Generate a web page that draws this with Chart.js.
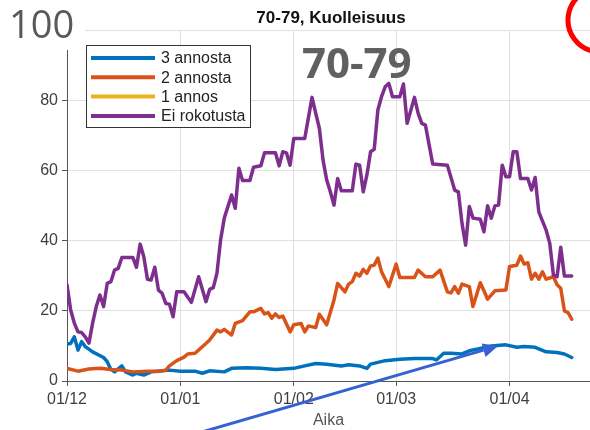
<!DOCTYPE html>
<html>
<head>
<meta charset="utf-8">
<script src="https://cdn.jsdelivr.net/npm/chart.js@4.4.1/dist/chart.umd.min.js"></script>
<style>
  body { margin: 0; background: #fff; }
  canvas { display: block; }
</style>
</head>
<body>
<canvas id="myChart" width="590" height="430"></canvas>
<script>
// x axis = days counted from 1 Dec
const tickDays = [0, 31, 62, 90, 121];
const tickLabels = ['01/12', '01/01', '01/02', '01/03', '01/04'];
const yTicks = [0, 20, 40, 60, 80, 100];

const seriesNames = ['3 annosta', '2 annosta', '1 annos', 'Ei rokotusta'];
const seriesColors = ['#0072BD', '#D95319', '#EDB120', '#7E2F8E'];

const dose3Days = [0, 1, 2, 3, 4, 5, 7, 10, 11, 12, 13, 15, 16, 18, 19, 21, 23, 25, 28, 31, 35, 37, 39, 43, 45, 49, 53, 57, 62, 65, 68, 71, 75, 77, 80, 82, 83, 87, 91, 95, 100, 101, 103, 105, 108, 110, 113, 116, 120, 123, 125, 128, 131, 134, 136, 138];
const dose3 = [10.5, 10.7, 12.6, 8.8, 11.2, 9.8, 8.3, 6.7, 5.5, 3.3, 2.6, 4.3, 2.6, 1.7, 2.2, 1.7, 2.6, 2.8, 3.1, 2.8, 2.8, 2.2, 2.9, 2.6, 3.6, 3.8, 3.6, 3.3, 3.6, 4.3, 5.0, 4.8, 4.3, 4.6, 4.3, 3.6, 4.8, 5.8, 6.2, 6.4, 6.4, 6.0, 7.9, 7.9, 7.7, 8.6, 9.3, 10.0, 10.3, 9.6, 9.8, 9.6, 8.3, 8.1, 7.7, 6.7];

const dose2Days = [0, 3, 6, 9, 12, 15, 18, 22, 25, 27, 28, 30, 32, 33, 35, 38, 39, 41, 42, 43, 45, 46, 48, 50, 51, 53, 54, 55, 56, 57, 58, 59, 61, 62, 64, 65, 66, 68, 69, 71, 73, 74, 76, 77, 78, 79, 80, 81, 82, 83, 84, 85, 86, 88, 90, 91, 95, 96, 98, 100, 102, 104, 105, 106, 107, 108, 110, 111, 113, 114, 115, 117, 120, 121, 123, 124, 125, 126, 127, 128, 129, 130, 131, 133, 134, 135, 136, 137, 138];
const dose2 = [3.6, 2.8, 3.4, 3.6, 3.3, 3.1, 2.6, 2.8, 2.8, 3.1, 4.3, 5.8, 6.8, 7.7, 7.9, 10.7, 11.7, 14.5, 14.0, 14.7, 13.1, 16.4, 17.2, 19.7, 19.7, 20.7, 19.1, 19.5, 17.9, 19.1, 18.1, 18.5, 14.0, 16.0, 16.4, 14.0, 15.7, 15.2, 19.0, 16.0, 23.1, 27.8, 25.4, 27.6, 28.3, 30.7, 29.9, 31.8, 30.7, 32.8, 33.0, 35.0, 31.1, 26.9, 33.3, 29.5, 29.5, 31.6, 29.7, 29.7, 31.6, 25.4, 25.1, 26.9, 25.0, 27.6, 26.9, 21.2, 28.0, 25.7, 23.3, 25.7, 25.9, 32.6, 33.0, 35.6, 33.3, 33.7, 29.0, 30.7, 29.0, 31.1, 29.0, 29.7, 27.4, 26.4, 20.0, 19.5, 17.6];

// no deaths plotted for a single dose
const dose1Days = [];
const dose1 = [];

const noneDays = [0, 1, 2, 3, 4, 5, 6, 7, 8, 9, 10, 11, 12, 13, 14, 15, 18, 19, 20, 21, 22, 23, 24, 25, 26, 27, 28, 29, 30, 32, 34, 36, 38, 39, 40, 41, 42, 43, 45, 46, 47, 48, 50, 51, 53, 54, 57, 58, 59, 60, 61, 62, 65, 67, 68, 69, 70, 71, 72, 73, 74, 75, 78, 79, 80, 81, 82, 83, 84, 85, 86, 87, 88, 89, 91, 92, 93, 95, 96, 97, 98, 100, 104, 106, 107, 108, 109, 110, 111, 113, 114, 115, 116, 117, 118, 119, 120, 121, 122, 123, 124, 126, 127, 128, 129, 131, 132, 133, 134, 135, 136, 138];
const none = [27.4, 20.2, 16.5, 14.0, 13.8, 12.6, 10.8, 16.5, 21.2, 24.5, 21.2, 27.8, 28.3, 31.6, 32.1, 35.2, 35.2, 32.4, 39.0, 35.4, 29.0, 28.8, 32.4, 25.9, 25.0, 22.1, 21.9, 18.3, 25.4, 25.4, 22.4, 29.7, 22.6, 26.1, 26.6, 30.7, 40.2, 46.4, 53.0, 49.2, 60.6, 57.1, 57.1, 60.9, 61.3, 65.0, 65.0, 61.3, 65.3, 65.0, 61.5, 69.1, 69.1, 80.8, 76.3, 72.0, 63.0, 57.3, 53.9, 50.1, 57.7, 54.2, 54.2, 61.8, 61.5, 53.9, 58.7, 65.3, 66.0, 77.2, 81.0, 83.8, 84.8, 81.0, 81.0, 84.6, 73.4, 80.8, 76.3, 73.4, 72.9, 61.8, 61.5, 54.4, 53.9, 44.9, 38.7, 49.7, 46.4, 46.1, 42.5, 49.9, 46.4, 49.9, 50.1, 61.5, 58.2, 58.2, 65.3, 65.3, 57.7, 57.7, 54.4, 58.0, 48.2, 43.0, 39.2, 30.2, 29.7, 38.1, 29.9, 29.9];

const allDays = [dose3Days, dose2Days, dose1Days, noneDays];
const allValues = [dose3, dose2, dose1, none];

const datasets = seriesNames.map((name, i) => ({
  label: name,
  data: allDays[i].map((d, j) => ({ x: d, y: allValues[i][j] })),
  borderColor: seriesColors[i],
  backgroundColor: seriesColors[i],
  borderWidth: 3.5,
  pointRadius: 0,
  tension: 0,
  borderJoinStyle: 'round',
  borderCapStyle: 'round',
  order: 3 - i
}));

// titles, inset legend and slide markings drawn on top
const overlay = {
  id: 'overlay',
  afterDraw(chart) {
    const c = chart.ctx;
    c.save();

    // white box behind the big "100"
    c.fillStyle = '#fff';
    c.fillRect(0, 0, 85, 50);
    c.fillStyle = '#595959';
    c.font = '38px "Open Sans"';
    c.textAlign = 'left';
    c.textBaseline = 'alphabetic';
    c.fillText('100', 9, 38);

    // plot title
    c.fillStyle = '#111';
    c.font = 'bold 17px "Liberation Sans"';
    c.textAlign = 'center';
    c.fillText('70-79, Kuolleisuus', 331, 23);

    // age group caption
    c.fillStyle = '#606060';
    c.font = 'bold 42px "Open Sans"';
    c.textAlign = 'left';
    c.fillText('70-79', 302, 78);

    // legend box
    const lx = 86, ly = 45, lw = 164, lh = 82;
    c.fillStyle = '#fff';
    c.fillRect(lx, ly, lw, lh);
    c.strokeStyle = '#333';
    c.lineWidth = 1;
    c.strokeRect(lx + 0.5, ly + 0.5, lw, lh);
    c.font = '16px "Liberation Sans"';
    c.textBaseline = 'middle';
    seriesNames.forEach((name, i) => {
      const y = 58 + i * 19.3;
      c.strokeStyle = seriesColors[i];
      c.lineWidth = 4;
      c.beginPath();
      c.moveTo(91, y);
      c.lineTo(155, y);
      c.stroke();
      c.fillStyle = '#222';
      c.fillText(name, 161, y + 1);
    });

    // red circle mark at the corner
    c.strokeStyle = '#ff0000';
    c.lineWidth = 5;
    c.beginPath();
    c.arc(600, 20, 32, Math.PI * 0.55, Math.PI * 1.45);
    c.stroke();

    // blue arrow
    const x0 = 195, y0 = 434, x1 = 498, y1 = 346;
    const ang = Math.atan2(y1 - y0, x1 - x0);
    const hl = 15, hw = 7;
    const bx = x1 - hl * Math.cos(ang), by = y1 - hl * Math.sin(ang);
    c.strokeStyle = '#3561d1';
    c.fillStyle = '#3561d1';
    c.lineWidth = 3;
    c.beginPath();
    c.moveTo(x0, y0);
    c.lineTo(bx, by);
    c.stroke();
    c.beginPath();
    c.moveTo(x1, y1);
    c.lineTo(bx + hw * Math.sin(ang), by - hw * Math.cos(ang));
    c.lineTo(bx - hw * Math.sin(ang), by + hw * Math.cos(ang));
    c.closePath();
    c.fill();

    c.restore();
  }
};

const ctx = document.getElementById('myChart');

let chartConfig = {
  type: 'line',
  data: { datasets: datasets },
  options: {
    responsive: false,
    animation: false,
    devicePixelRatio: 1,
    layout: { padding: { top: 30, right: 0, left: 0, bottom: 0 } },
    plugins: {
      legend: { display: false },
      tooltip: { enabled: false }
    },
    scales: {
      x: {
        type: 'linear',
        min: 0,
        max: 143,
        afterBuildTicks: (scale) => { scale.ticks = tickDays.map(v => ({ value: v })); },
        afterFit: (scale) => { scale.height = 49; },
        ticks: {
          autoSkip: false,
          maxRotation: 0,
          padding: 4,
          color: '#404040',
          font: { family: 'Liberation Sans', size: 16 },
          callback: (v) => tickLabels[tickDays.indexOf(v)]
        },
        grid: { color: '#e0e0e0', tickColor: '#555', tickLength: 5 },
        border: { color: '#555', width: 1 },
        title: {
          display: true,
          text: 'Aika',
          color: '#555',
          padding: 0,
          font: { family: 'Liberation Sans', size: 16 }
        }
      },
      y: {
        min: 0,
        max: 100,
        afterBuildTicks: (scale) => { scale.ticks = yTicks.map(v => ({ value: v })); },
        afterFit: (scale) => { scale.width = 67; },
        ticks: {
          padding: 4,
          color: '#404040',
          font: { family: 'Liberation Sans', size: 16 }
        },
        grid: { color: '#e0e0e0', tickColor: '#555', tickLength: 5 },
        border: { color: '#555', width: 1 }
      }
    }
  },
  plugins: [overlay]
};

let mychart = new Chart(ctx, chartConfig);
</script>
</body>
</html>
